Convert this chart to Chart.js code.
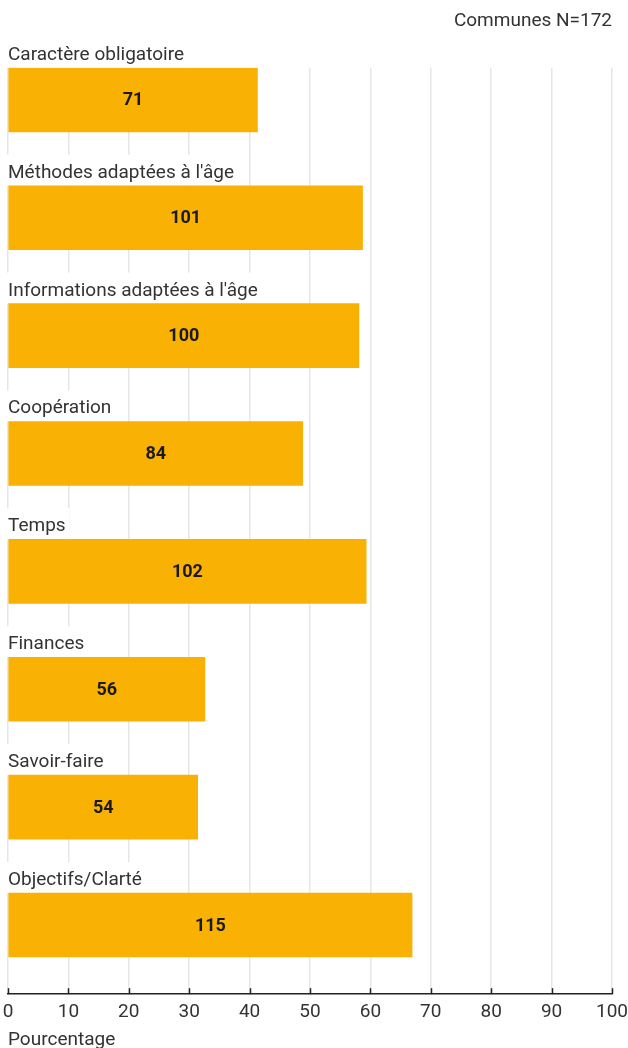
<!DOCTYPE html>
<html>
<head>
<meta charset="utf-8">
<script src="https://cdn.jsdelivr.net/npm/chart.js@4/dist/chart.umd.min.js"></script>
<style>
  html, body { margin:0; padding:0; background:#fff; }
  .wrap { position:relative; width:628px; height:1048px; }
</style>
</head>
<body>
<div class="wrap"><canvas id="c"></canvas></div>
<script>
// ==== データ ====
const categories = [
  'Caractère obligatoire',
  "Méthodes adaptées à l'âge",
  "Informations adaptées à l'âge",
  'Coopération',
  'Temps',
  'Finances',
  'Savoir-faire',
  'Objectifs/Clarté'
];
const counts   = [71, 101, 100, 84, 102, 56, 54, 115];   // 棒の中の数
const percents = [41.3, 58.7, 58.1, 48.8, 59.3, 32.6, 31.4, 66.9]; // 棒の長さ（％）
const xTicks   = [0, 10, 20, 30, 40, 50, 60, 70, 80, 90, 100];

const FONT = 'Roboto, "Liberation Sans", sans-serif';
const BAR_COLOR = '#f9b104';
const BAR_PX = 64;
const FS = 19;

/* ===== カテゴリ名（棒の上、白地で目盛線を隠す） ===== */
const catLabelPlugin = {
  id: 'catLabel',
  beforeDatasetsDraw(c) {
    const ctx = c.ctx;
    const meta = c.getDatasetMeta(0);
    const left = c.chartArea.left;
    ctx.save();
    ctx.font = FS + 'px ' + FONT;
    ctx.textAlign = 'left';
    ctx.textBaseline = 'alphabetic';
    meta.data.forEach((el, i) => {
      const top = el.y - BAR_PX / 2;
      const w = ctx.measureText(categories[i]).width;
      ctx.fillStyle = '#fff';
      ctx.fillRect(left - 2, top - 31, w + 6, 31);
      ctx.fillStyle = '#333';
      ctx.fillText(categories[i], left, top - 8);
    });
    ctx.restore();
  }
};

/* ===== 値ラベル＋下の目盛り ===== */
const valueLabelPlugin = {
  id: 'valueLabel',
  afterDatasetsDraw(c) {
    const ctx = c.ctx;
    const meta = c.getDatasetMeta(0);
    ctx.save();
    ctx.font = 'bold 18px ' + FONT;
    ctx.textAlign = 'center';
    ctx.textBaseline = 'middle';
    ctx.fillStyle = '#1a1a1a';
    meta.data.forEach((el, i) => {
      ctx.fillText(String(counts[i]), (el.x + el.base) / 2, el.y + 1);
    });
    // 目盛り（軸線の上側に黒）
    const xs = c.scales.x;
    const yb = c.chartArea.bottom;
    ctx.strokeStyle = '#222';
    ctx.lineWidth = 1.5;
    xTicks.forEach(t => {
      const px = Math.round(xs.getPixelForValue(t)) + 0.5;
      ctx.beginPath();
      ctx.moveTo(px, yb - 6);
      ctx.lineTo(px, yb);
      ctx.stroke();
    });
    ctx.restore();
  }
};

new Chart(document.getElementById('c'), {
  type: 'bar',
  data: {
    datasets: [{
      data: percents.map((v, i) => ({ x: v, y: i })),
      backgroundColor: BAR_COLOR,
      barThickness: BAR_PX,
      borderWidth: 0
    }]
  },
  options: {
    indexAxis: 'y',
    responsive: true,
    maintainAspectRatio: false,
    animation: false,
    layout: { padding: { left: 8, right: 16, top: 0, bottom: -2 } },
    scales: {
      x: {
        type: 'linear',
        min: 0, max: 100,
        afterBuildTicks: s => { s.ticks = xTicks.map(v => ({ value: v })); },
        afterFit: s => { s.paddingLeft = 0; s.paddingRight = 0; },
        grid: { color: '#e6e6e6', lineWidth: 1.5, drawTicks: false },
        border: { display: true, color: '#222', width: 1.5 },
        ticks: { padding: 7, color: '#333', font: { family: FONT, size: FS } },
        title: {
          display: true, text: 'Pourcentage', align: 'start', color: '#333',
          font: { family: FONT, size: FS, lineHeight: 1 }, padding: { top: 0, bottom: 0 }
        }
      },
      y: {
        type: 'linear',
        reverse: true,
        offset: false,
        min: -0.272, max: 7.587,
        display: false
      }
    },
    plugins: {
      legend: { display: false },
      tooltip: { enabled: false },
      title: {
        display: true, text: 'Communes N=172', align: 'end', color: '#333',
        font: { family: FONT, size: FS, weight: 'normal', lineHeight: 1.2 },
        padding: { top: 10, bottom: 35 }
      }
    }
  },
  plugins: [catLabelPlugin, valueLabelPlugin]
});
</script>
</body>
</html>
